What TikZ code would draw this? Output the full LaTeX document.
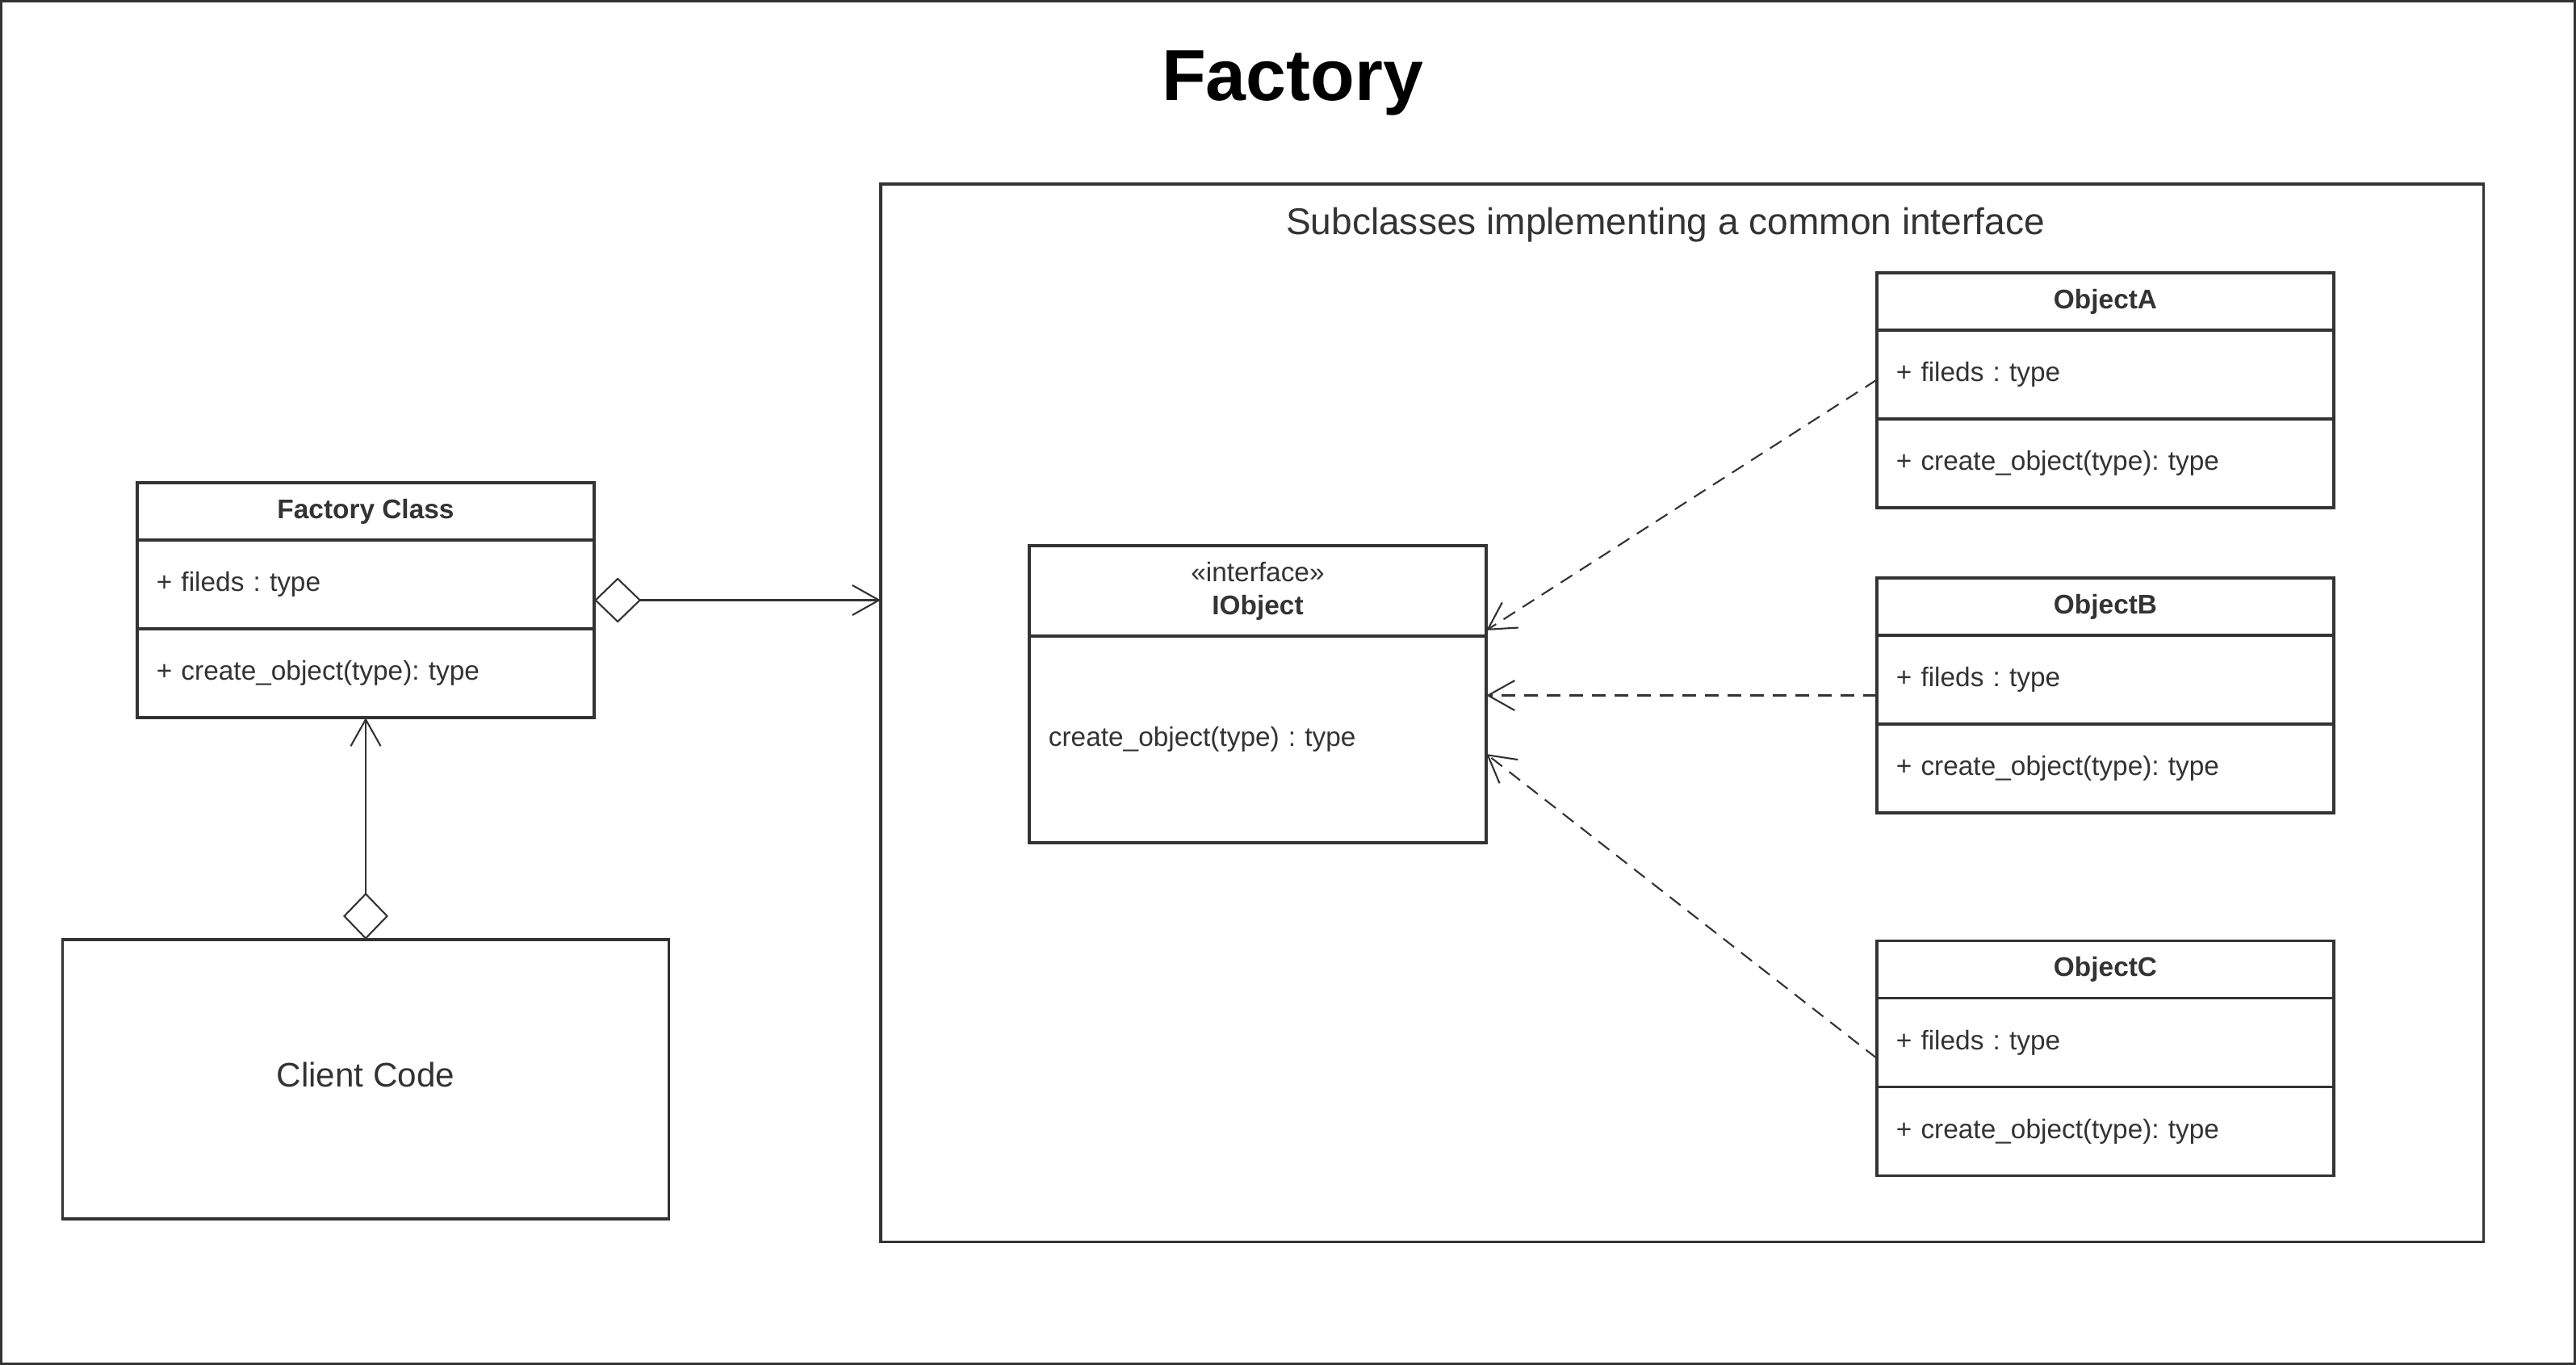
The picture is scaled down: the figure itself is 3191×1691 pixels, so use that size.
\documentclass[tikz,border=0pt]{standalone}
\usepackage{fontspec}
\setmainfont{Liberation Sans}
\usetikzlibrary{positioning,arrows.meta,calc}
\definecolor{ink}{HTML}{333333}
\frenchspacing

\begin{document}
\begin{tikzpicture}[x=0.01cm, y=-0.01cm,
  cls/.style={draw=ink, line width=1pt, minimum width=5.66cm, outer sep=0pt},
  hdr/.style={cls, minimum height=0.71cm, font=\fontsize{9.5}{11.7}\selectfont\bfseries, text=ink},
  fld/.style={cls, minimum height=1.10cm, text width=5.18cm, inner xsep=0.24cm, align=left, font=\fontsize{9.5}{11.7}\selectfont, text=ink},
  link/.style={draw=ink, line width=0.6pt},
  impl/.style={link, dash pattern=on 0.17cm off 0.11cm, -{Straight Barb[length=0.33cm,width=0.37cm]}},
  agg/.style={link, {Diamond[open,length=0.58cm,width=0.56cm]}-{Straight Barb[length=0.33cm,width=0.37cm]}}]
\useasboundingbox (0,0) rectangle (3191,1691);
\draw[ink, line width=0.03cm] (1.5,1.5) rectangle (3189.5,1689.5);

\node[anchor=base, font=\fontsize{25.5}{30}\selectfont\bfseries] (title) at (1601,125) {Factory};

% container of the subclasses
\node[draw=ink, line width=0.9pt, minimum width=19.845cm, minimum height=13.10cm, anchor=north west, outer sep=0pt] (sub) at (1091,228) {};
\node[anchor=base, font=\fontsize{13.1}{15}\selectfont, text=ink] (subtitle) at (2063,290) {Subclasses implementing a common interface};

% factory class
\node[cls, minimum height=2.91cm] (fc) at (453,743.5) {};
\node[hdr, anchor=north] (fc-h) at (fc.north) {Factory Class};
\node[fld, below=0pt of fc-h] (fc-f) {+ fileds : type};
\node[fld, below=0pt of fc-f] (fc-m) {+ create\_object(type): type};

% client
\node[draw=ink, line width=1pt, minimum width=7.51cm, minimum height=3.46cm, text depth=0.12cm, outer sep=0pt, font=\fontsize{12}{14}\selectfont, text=ink] (cl) at (453,1337) {Client Code};

% interface
\node[cls, minimum height=3.68cm] (io) at (1558,860) {};
\node[cls, anchor=north, minimum height=1.12cm, align=center, font=\fontsize{9.5}{11.7}\selectfont, text=ink] (io-h) at (io.north) {«interface»\\\textbf{IObject}};
\node[fld, below=0pt of io-h, minimum height=2.56cm] (io-b) {create\_object(type) : type};

% subclasses
\node[cls, minimum height=2.91cm] (oa) at (2608,483.5) {};
\node[hdr, anchor=north] (oa-h) at (oa.north) {ObjectA};
\node[fld, below=0pt of oa-h] (oa-f) {+ fileds : type};
\node[fld, below=0pt of oa-f] (oa-m) {+ create\_object(type): type};

\node[cls, minimum height=2.91cm] (ob) at (2608,861.5) {};
\node[hdr, anchor=north] (ob-h) at (ob.north) {ObjectB};
\node[fld, below=0pt of ob-h] (ob-f) {+ fileds : type};
\node[fld, below=0pt of ob-f] (ob-m) {+ create\_object(type): type};

\node[cls, minimum height=2.91cm] (oc) at (2608,1311) {};
\node[hdr, anchor=north] (oc-h) at (oc.north) {ObjectC};
\node[fld, below=0pt of oc-h] (oc-f) {+ fileds : type};
\node[fld, below=0pt of oc-f] (oc-m) {+ create\_object(type): type};

% connectors
\draw[agg] (fc.east) -- (fc.east -| sub.west);
\draw[agg] (cl.north) -- (fc.south);
\draw[impl] ([yshift=0.13cm]oa.west) -- ([yshift=0.07cm]io-h.south east);
\draw[impl] (ob.west) -- (ob.west -| io.east);
\draw[impl] (oc.west) -- ([yshift=-0.74cm]io.east);
\end{tikzpicture}
\end{document}
